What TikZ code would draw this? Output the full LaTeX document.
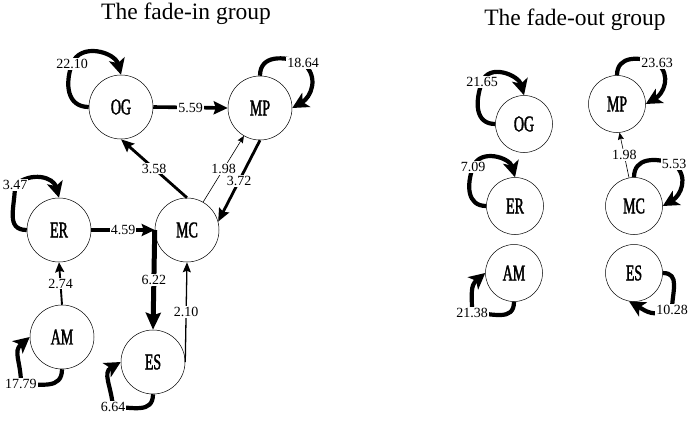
\documentclass[tikz,border=0pt]{standalone}
\usepackage{fontspec}
\setmainfont{Liberation Serif}
\newfontfamily\statefont[FakeStretch=0.62,FakeBold=1.6]{Liberation Serif}
\usetikzlibrary{arrows.meta}

\tikzset{
  state/.style={circle, draw, line width=0.5pt, minimum size=64pt, inner sep=0pt,
    font=\statefont\fontsize{22.5}{22.5}\selectfont},
  smallstate/.style={state, minimum size=57pt},
  weight/.style={fill=white, inner sep=1pt, font=\fontsize{14}{14}\selectfont},
  heading/.style={anchor=base, font=\fontsize{23.5}{24}\selectfont},
  selfloop/.style={line width=4.2pt, -{Stealth[length=16pt,width=16pt,inset=4pt]}, looseness=1.2},
  wA/.style={line width=0.6pt, -{Stealth[length=7pt,width=6pt,inset=1pt]}},
  wB/.style={line width=1.3pt, -{Stealth[length=10pt,width=8pt,inset=1.5pt]}},
  wC/.style={line width=1.9pt, -{Stealth[length=10pt,width=9pt,inset=1.5pt]}},
  wD/.style={line width=2.8pt, -{Stealth[length=13pt,width=11pt,inset=2pt]}},
  wE/.style={line width=3.3pt, -{Stealth[length=13pt,width=12pt,inset=2pt]}},
  wF/.style={line width=3.6pt, -{Stealth[length=14pt,width=13pt,inset=2pt]}},
  wG/.style={line width=5pt, -{Stealth[length=17pt,width=15pt,inset=2.5pt]}}
}

\begin{document}
\begin{tikzpicture}[x=1pt,y=1pt]
\useasboundingbox (0,0) rectangle (690,-420);

% fade-in group
\node[heading] (titleIn) at (186,-20) {The fade-in group};
\node[state] (OG) at (121,-107) {OG};
\node[state] (MP) at (260,-108) {MP};
\node[state] (ER) at (59,-230) {ER};
\node[state] (MC) at (187,-230) {MC};
\node[state] (AM) at (62,-337) {AM};
\node[state] (ES) at (153,-362) {ES};

\draw[wF] (OG.east) -- node[weight] {5.59} (MP.west);
\draw[wD] (MC.north) -- node[weight] {3.58} (OG.south);
\draw[wA] (MC.60) -- node[weight] {1.98} (MP.240);
\draw[wD] (MP.south) -- node[weight] {3.72} (MC.15);
\draw[wE] (ER.east) -- node[weight] {4.59} (MC.west);
\draw[wG] (MC.west) -- node[weight] {6.22} (ES.north);
\draw[wB] (ES.east) -- node[weight] {2.10} (MC.south);
\draw[wC] (AM.north) -- node[weight] {2.74} (ER.south);

\draw[selfloop] (OG.west) to[out=180,in=250] (72,-64) node[weight] {22.10} to[out=70,in=105] (OG.north);
\draw[selfloop] (MP.north) to[out=90,in=160] (303,-63) node[weight] {18.64} to[out=-40,in=30] (MP.east);
\draw[selfloop] (ER.west) to[out=180,in=270] (15,-185) node[weight] {3.47} to[out=40,in=105] (ER.north);
\draw[selfloop] (AM.south) to[out=270,in=0] (21,-384) node[weight] {17.79} to[out=90,in=220] (AM.west);
\draw[selfloop] (ES.south) to[out=270,in=0] (113,-407) node[weight] {6.64} to[out=95,in=210] (ES.west);

% fade-out group
\node[heading] (titleOut) at (575,-26) {The fade-out group};
\node[smallstate] (og) at (524,-124) {OG};
\node[smallstate] (mp) at (617,-104) {MP};
\node[smallstate] (er) at (515,-206) {ER};
\node[smallstate] (mc) at (634,-206) {MC};
\node[smallstate] (am) at (514,-273) {AM};
\node[smallstate] (es) at (634,-273) {ES};

\draw[wA] (mc.100) -- node[weight] {1.98} (mp.275);

\draw[selfloop] (og.west) to[out=180,in=250] (482,-82) node[weight] {21.65} to[out=70,in=105] (og.north);
\draw[selfloop] (mp.north) to[out=90,in=160] (657,-63) node[weight] {23.63} to[out=-40,in=30] (mp.east);
\draw[selfloop] (er.west) to[out=180,in=250] (473,-167) node[weight] {7.09} to[out=70,in=105] (er.north);
\draw[selfloop] (mc.north) to[out=90,in=160] (674,-164) node[weight] {5.53} to[out=-40,in=30] (mc.east);
\draw[selfloop] (am.south) to[out=270,in=0] (472,-313) node[weight] {21.38} to[out=90,in=220] (am.west);
\draw[selfloop] (es.east) to[out=0,in=90] (672,-310) node[weight] {10.28} to[out=200,in=-30] (es.-100);
\end{tikzpicture}
\end{document}
